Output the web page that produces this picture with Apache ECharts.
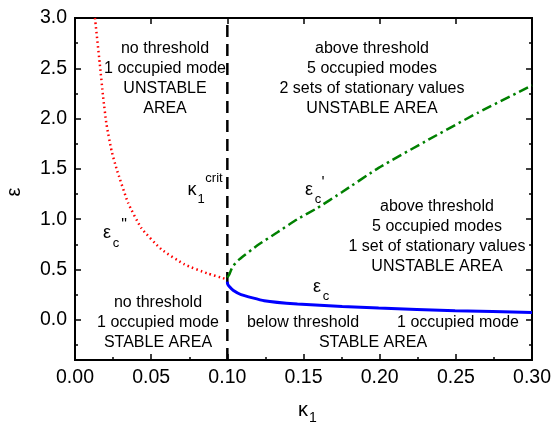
<!DOCTYPE html>
<html lang="en">
  <head>
    <meta charset="UTF-8" />
    <title>epsilon vs kappa1</title>
    <style>
      html, body { margin: 0; padding: 0; background: #fff; }
    </style>
  </head>
  <body>
    <div id="main" style="width: 554px; height: 425px"></div>
    <script src="https://cdn.jsdelivr.net/npm/echarts@6/dist/echarts.min.js"></script>
    <script>
      // [kappa1, epsilon]
      var epsC2 = [
        [0.0131, 3.0], [0.0163, 2.54], [0.0185, 2.21], [0.0207, 1.94],
        [0.024, 1.68], [0.0273, 1.5], [0.0349, 1.16], [0.0436, 0.91],
        [0.0567, 0.7], [0.0719, 0.55], [0.0871, 0.46], [0.0969, 0.415],
        [0.1, 0.4]
      ];
      var epsC1 = [
        [0.1, 0.42], [0.1013, 0.45], [0.1035, 0.53], [0.1078, 0.6],
        [0.1198, 0.74], [0.1329, 0.87], [0.146, 1.0], [0.159, 1.11],
        [0.1754, 1.27], [0.1993, 1.51], [0.232, 1.79], [0.2647, 2.06],
        [0.2974, 2.31], [0.3, 2.33]
      ];
      var epsC = [
        [0.1, 0.38], [0.1002, 0.355], [0.1013, 0.33], [0.104, 0.29],
        [0.109, 0.25], [0.1242, 0.19], [0.146, 0.157], [0.1754, 0.133],
        [0.1993, 0.117], [0.2495, 0.09], [0.3, 0.073]
      ];
      var kappaCrit = [[0.1, -0.4], [0.1, 3.0]];
      var yMajor = [0, 0.5, 1, 1.5, 2, 2.5, 3];
      var yMinor = [-0.25, 0.25, 0.75, 1.25, 1.75, 2.25, 2.75];

      var font = "'Liberation Sans', Arial, sans-serif";
      var myChart = echarts.init(document.getElementById("main"));

      function txt(s, x, y, size, rot) {
        return {
          type: "text",
          x: x,
          y: y,
          rotation: rot || 0,
          style: {
            text: s,
            fontSize: size || 16,
            fontFamily: font,
            fill: "#000",
            align: "center",
            verticalAlign: "middle"
          }
        };
      }

      var axisLine = { show: true, onZero: false, lineStyle: { color: "#000", width: 2 } };

      function yAx(pos, ticks, len, labels) {
        return {
          type: "value",
          min: -0.4,
          max: 3.0,
          position: pos,
          axisLine: axisLine,
          splitLine: { show: false },
          axisTick: {
            inside: true,
            length: len,
            customValues: ticks,
            lineStyle: { color: "#000", width: 1.5 }
          },
          axisLabel: labels
            ? {
                customValues: ticks,
                formatter: function (v) { return v.toFixed(1); },
                fontSize: 19.5,
                fontFamily: font,
                color: "#000",
                margin: 8
              }
            : { show: false }
        };
      }

      var option = {
        animation: false,
        grid: { left: 75, right: 20, top: 18, bottom: 65 },
        xAxis: [
          {
            type: "value",
            min: 0,
            max: 0.3,
            interval: 0.05,
            position: "bottom",
            axisLine: axisLine,
            splitLine: { show: false },
            axisTick: { inside: true, length: 6, lineStyle: { color: "#000", width: 1.5 } },
            minorTick: { show: true, splitNumber: 2, length: 3, lineStyle: { color: "#000", width: 1.5 } },
            axisLabel: {
              formatter: function (v) { return v.toFixed(2); },
              fontSize: 19.5,
              fontFamily: font,
              color: "#000",
              margin: 8
            }
          },
          {
            type: "value",
            min: 0,
            max: 0.3,
            interval: 0.05,
            position: "top",
            axisLine: axisLine,
            splitLine: { show: false },
            axisTick: { inside: true, length: 6, lineStyle: { color: "#000", width: 1.5 } },
            axisLabel: { show: false }
          }
        ],
        yAxis: [
          yAx("left", yMajor, 6, true),
          yAx("left", yMinor, 3, false),
          yAx("right", yMajor, 6, false),
          yAx("right", yMinor, 3, false)
        ],
        series: [
          {
            type: "line",
            data: kappaCrit,
            showSymbol: false,
            lineStyle: { color: "#000", width: 2.5, type: [12, 7] }
          },
          {
            type: "line",
            data: epsC2,
            showSymbol: false,
            smooth: 0.15,
            lineStyle: { color: "#ff0000", width: 2.5, type: [1.5, 3.2] }
          },
          {
            type: "line",
            data: epsC1,
            showSymbol: false,
            smooth: 0.15,
            lineStyle: { color: "#008000", width: 2.5, type: [10, 4, 2.5, 4] }
          },
          {
            type: "line",
            data: epsC,
            showSymbol: false,
            smooth: 0.15,
            lineStyle: { color: "#0000ff", width: 3 }
          }
        ],
        graphic: [
          txt("no threshold", 165, 49),
          txt("1 occupied mode", 165, 69),
          txt("UNSTABLE", 165, 89),
          txt("AREA", 165, 109),

          txt("above threshold", 372, 49),
          txt("5 occupied modes", 372, 69),
          txt("2 sets of stationary values", 372, 89),
          txt("UNSTABLE AREA", 372, 109),

          txt("above threshold", 437, 207),
          txt("5 occupied modes", 437, 227),
          txt("1 set of stationary values", 437, 247),
          txt("UNSTABLE AREA", 437, 267),

          txt("no threshold", 158, 303),
          txt("1 occupied mode", 158, 323),
          txt("STABLE AREA", 158, 343),

          txt("below threshold", 303, 323),
          txt("STABLE AREA", 373, 343),
          txt("1 occupied mode", 458, 323),

          // kappa1 crit label
          txt("κ", 192, 190, 18),
          txt("1", 201, 199, 13),
          txt("crit", 214, 178, 13),

          // curve labels
          txt("ε", 107, 233, 18),
          txt("c", 116, 243, 13),
          txt("\"", 124, 226, 16),

          txt("ε", 309, 190, 18),
          txt("c", 318, 199, 13),
          txt("'", 323, 184, 16),

          txt("ε", 317, 287, 18),
          txt("c", 326, 296, 13),

          // axis names
          txt("ε", 14, 192, 20, Math.PI / 2),
          txt("κ", 303, 410, 20),
          txt("1", 313, 418, 14)
        ]
      };

      myChart.setOption(option);
    </script>
  </body>
</html>
